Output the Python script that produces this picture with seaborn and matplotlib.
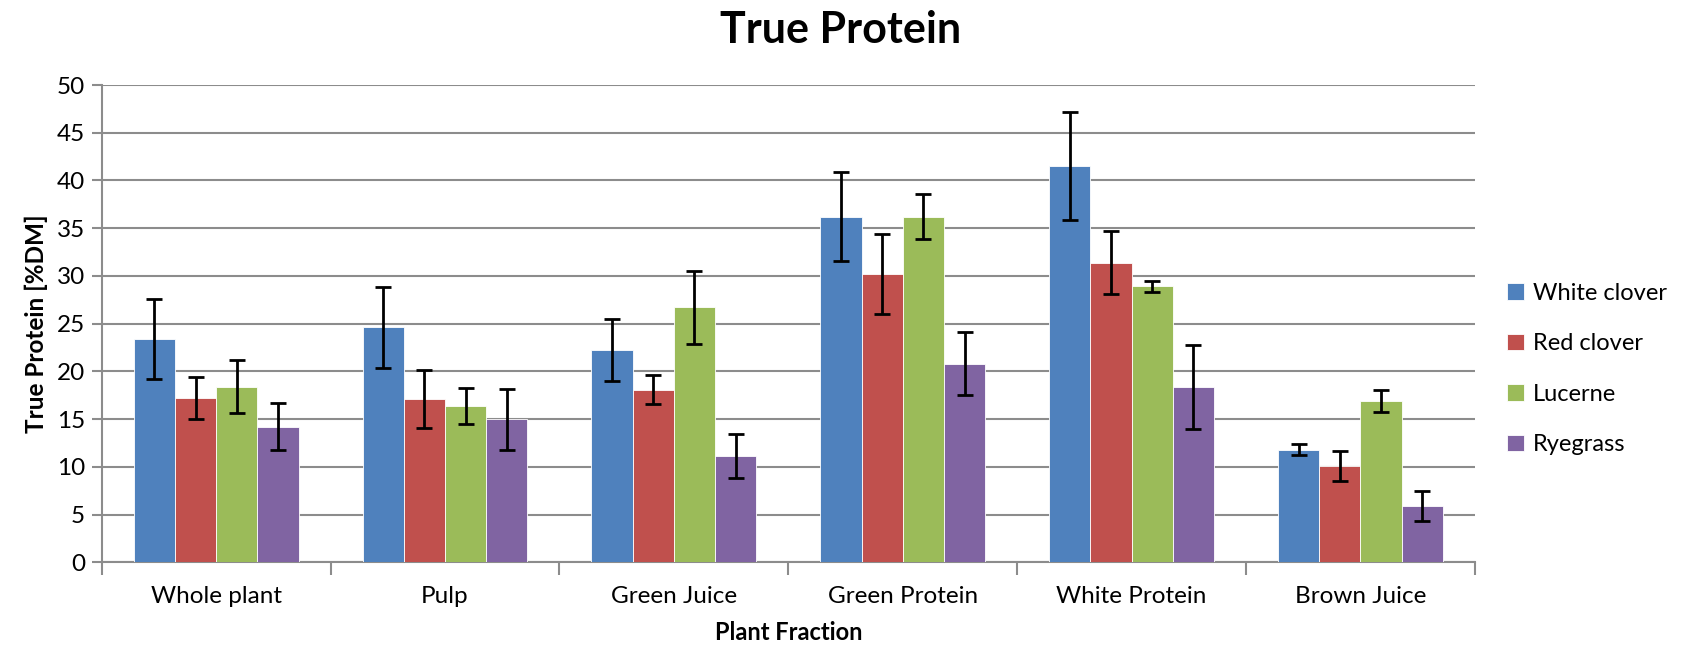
import numpy as np
import pandas as pd
import matplotlib
matplotlib.use("Agg")
import matplotlib.pyplot as plt
import seaborn as sns
from matplotlib.ticker import MultipleLocator, FixedLocator

fractions = ["Whole plant", "Pulp", "Green Juice", "Green Protein", "White Protein", "Brown Juice"]
species = ["White clover", "Red clover", "Lucerne", "Ryegrass"]

white_clover = [23.4, 24.6, 22.2, 36.2, 41.5, 11.8]
red_clover = [17.2, 17.1, 18.1, 30.2, 31.4, 10.1]
lucerne = [18.4, 16.4, 26.7, 36.2, 28.9, 16.9]
ryegrass = [14.2, 15.0, 11.1, 20.8, 18.4, 5.9]

white_clover_err = [4.15, 4.2, 3.25, 4.65, 5.65, 0.6]
red_clover_err = [2.2, 3.05, 1.5, 4.15, 3.27, 1.6]
lucerne_err = [2.8, 1.9, 3.8, 2.35, 0.6, 1.2]
ryegrass_err = [2.45, 3.2, 2.3, 3.3, 4.4, 1.6]

colors = ["#4F81BD", "#C0504D", "#9BBB59", "#8064A2"]

values = [white_clover, red_clover, lucerne, ryegrass]
errors = [white_clover_err, red_clover_err, lucerne_err, ryegrass_err]

rows = []
for s, vals, errs in zip(species, values, errors):
    for f, v, e in zip(fractions, vals, errs):
        rows.append({"Fraction": f, "Species": s, "Value": v, "Err": e})
df = pd.DataFrame(rows)

sns.set_theme(style="white")
plt.rcParams["font.family"] = ["Lato", "DejaVu Sans"]
plt.rcParams["text.color"] = "black"
plt.rcParams["axes.labelcolor"] = "black"

fig = plt.figure(figsize=(16.92, 6.49), dpi=100)
ax = fig.add_axes([0.0601, 0.1336, 0.8116, 0.7354])

sns.barplot(data=df, x="Fraction", y="Value", hue="Species", order=fractions,
            hue_order=species, palette=colors, width=0.72, errorbar=None,
            saturation=1, ax=ax, linewidth=0.6, edgecolor="#ffffff", zorder=3)

# error bars at bar centers
for container, errs, vals in zip(ax.containers, errors, values):
    xs = [p.get_x() + p.get_width() / 2 for p in container.patches]
    ax.errorbar(xs, vals, yerr=errs, fmt="none", ecolor="black", elinewidth=2,
                capsize=6, capthick=2, zorder=4)

ax.set_ylim(0, 50)
ax.set_xlim(-0.5, 5.5)
ax.yaxis.set_major_locator(MultipleLocator(5))
ax.grid(axis="y", color="#8c8c8c", linewidth=1.5, zorder=0)
ax.set_axisbelow(True)

for side in ["top", "right"]:
    ax.spines[side].set_visible(False)
for side in ["left", "bottom"]:
    ax.spines[side].set_color("#8c8c8c")
    ax.spines[side].set_linewidth(1.5)

ax.tick_params(axis="y", which="major", left=True, length=7, width=1.5,
               color="#8c8c8c", labelsize=17.5, pad=5, labelcolor="black")
ax.tick_params(axis="x", which="major", bottom=False, labelsize=17.5, pad=11,
               labelcolor="black")
ax.xaxis.set_minor_locator(FixedLocator(np.arange(-0.5, 6.0, 1.0)))
ax.tick_params(axis="x", which="minor", bottom=True, length=9, width=1.5,
               color="#8c8c8c")

ax.set_xlabel("Plant Fraction", fontsize=17, fontweight="bold", labelpad=10)
ax.set_ylabel("True Protein [%DM]", fontsize=17.5, fontweight="bold", labelpad=6)
fig.suptitle("True Protein", fontsize=31, fontweight="bold", x=0.497, y=0.985,
             va="top")

ax.legend(title=None, loc="center left", bbox_to_anchor=(1.008, 0.405),
          frameon=False, fontsize=17, handlelength=0.7, handleheight=0.7,
          labelspacing=1.25, handletextpad=0.4)

fig.savefig("out.png", dpi=100)
